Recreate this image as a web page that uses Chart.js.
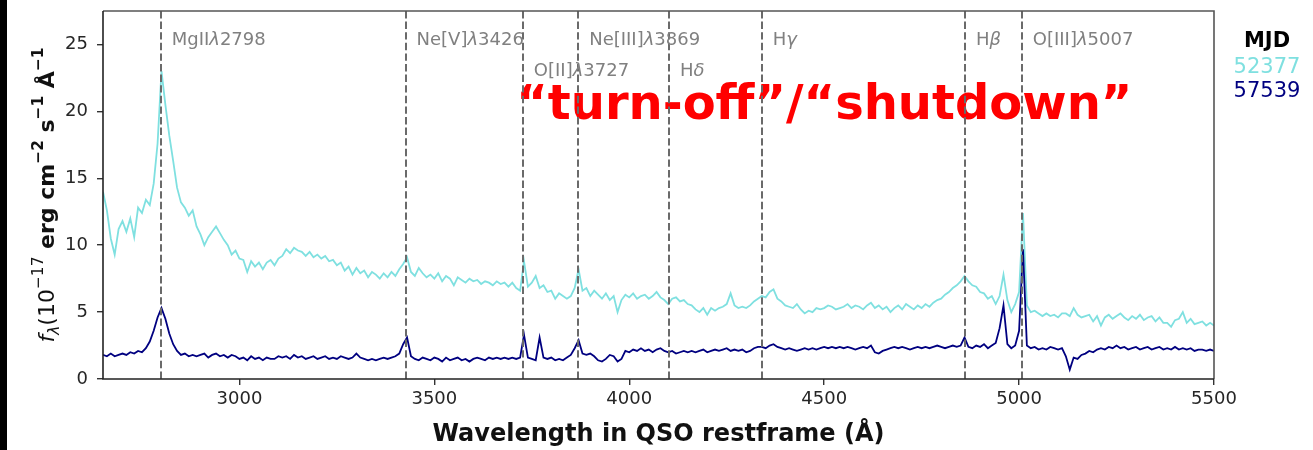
<!DOCTYPE html>
<html>
<head>
<meta charset="utf-8">
<script src="https://cdn.jsdelivr.net/npm/chart.js@4/dist/chart.umd.min.js"></script>
<style>
  html, body { margin: 0; padding: 0; background: #fff; }
  #wrap { position: relative; width: 1313px; height: 450px; }
  #edge { position: absolute; left: 0; top: 0; width: 7px; height: 450px; background: #000; }
  canvas { display: block; }
</style>
</head>
<body>
<div id="wrap">
  <canvas id="spec" width="1313" height="450"></canvas>
  <div id="edge"></div>
</div>
<script>
// Rest-frame wavelength grid (Angstrom)
const waveStart = 2650;
const waveStep = 10;

// Flux density, 1e-17 erg/cm^2/s/A, MJD 52377 (bright state)
const flux52377 = [
  14.0, 12.6, 10.5, 9.3, 11.2, 11.8, 11.0, 12.0, 10.6, 12.8,
  12.4, 13.4, 13.0, 14.6, 17.6, 23.0, 20.5, 18.2, 16.3, 14.3,
  13.2, 12.8, 12.2, 12.6, 11.4, 10.8, 10.0, 10.6, 11.0, 11.4,
  10.9, 10.4, 10.0, 9.3, 9.6, 9.0, 8.9, 8.0, 8.8, 8.4,
  8.7, 8.2, 8.7, 8.9, 8.5, 9.0, 9.2, 9.7, 9.4, 9.8,
  9.6, 9.5, 9.2, 9.5, 9.1, 9.3, 9.0, 9.2, 8.8, 8.9,
  8.5, 8.7, 8.1, 8.4, 7.8, 8.3, 7.9, 8.1, 7.6, 8.0,
  7.8, 7.5, 7.9, 7.6, 8.0, 7.7, 8.2, 8.6, 9.1, 8.0,
  7.7, 8.3, 7.9, 7.6, 7.8, 7.5, 7.9, 7.3, 7.7, 7.5,
  7.0, 7.6, 7.4, 7.2, 7.5, 7.3, 7.4, 7.1, 7.3, 7.2,
  7.0, 7.3, 7.1, 7.2, 6.9, 7.2, 6.8, 6.6, 8.8, 6.9,
  7.2, 7.7, 6.8, 7.0, 6.5, 6.6, 6.0, 6.4, 6.2, 6.0,
  6.2, 6.8, 8.2, 6.6, 6.8, 6.2, 6.6, 6.3, 6.0, 6.4,
  5.9, 6.2, 5.0, 5.9, 6.3, 6.1, 6.4, 6.0, 6.2, 6.3,
  6.0, 6.2, 6.5, 6.1, 5.9, 5.6, 6.0, 6.1, 5.8, 5.9,
  5.6, 5.5, 5.2, 5.0, 5.3, 4.8, 5.3, 5.1, 5.3, 5.4,
  5.6, 6.4, 5.5, 5.3, 5.4, 5.3, 5.5, 5.8, 6.0, 6.2,
  6.1, 6.5, 6.7, 6.0, 5.8, 5.5, 5.4, 5.3, 5.6, 5.2,
  4.9, 5.1, 5.0, 5.3, 5.2, 5.3, 5.5, 5.4, 5.2, 5.3,
  5.4, 5.6, 5.3, 5.5, 5.4, 5.2, 5.5, 5.7, 5.3, 5.5,
  5.2, 5.4, 5.0, 5.3, 5.5, 5.2, 5.6, 5.4, 5.2, 5.5,
  5.3, 5.6, 5.4, 5.7, 5.9, 6.0, 6.3, 6.5, 6.8, 7.0,
  7.3, 7.7, 7.3, 7.0, 6.9, 6.5, 6.4, 6.0, 6.2, 5.6,
  6.2, 7.8, 5.9, 5.0, 5.6, 6.5, 12.4, 5.5, 5.0, 5.1,
  4.9, 4.7, 4.9, 4.7, 4.8, 4.6, 4.9, 4.9, 4.7, 5.3,
  4.8, 4.6, 4.7, 4.8, 4.3, 4.7, 4.0, 4.6, 4.8, 4.5,
  4.7, 4.9, 4.6, 4.4, 4.7, 4.5, 4.8, 4.4, 4.6, 4.7,
  4.3, 4.6, 4.2, 4.2, 3.9, 4.4, 4.5, 5.0, 4.2, 4.5,
  4.1, 4.2, 4.3, 4.0, 4.2, 4.0
];

// Flux density, MJD 57539 (faded state)
const flux57539 = [
  1.8, 1.7, 1.9, 1.7, 1.8, 1.9, 1.8, 2.0, 1.9, 2.1,
  2.0, 2.3, 2.8, 3.6, 4.6, 5.3, 4.5, 3.4, 2.6, 2.1,
  1.8, 1.9, 1.7, 1.8, 1.7, 1.8, 1.9, 1.6, 1.8, 1.9,
  1.7, 1.8, 1.6, 1.8, 1.7, 1.5, 1.6, 1.4, 1.7, 1.5,
  1.6, 1.4, 1.6, 1.5, 1.5, 1.7, 1.6, 1.7, 1.5, 1.8,
  1.6, 1.7, 1.5, 1.6, 1.7, 1.5, 1.6, 1.7, 1.5, 1.6,
  1.5, 1.7, 1.6, 1.5, 1.6, 1.9, 1.6, 1.5, 1.4, 1.5,
  1.4, 1.5, 1.6, 1.5, 1.6, 1.7, 1.9, 2.6, 3.1, 1.7,
  1.5, 1.4, 1.6, 1.5, 1.4, 1.6, 1.5, 1.3, 1.6, 1.4,
  1.5, 1.6, 1.4, 1.5, 1.3, 1.5, 1.6, 1.5, 1.4, 1.6,
  1.5, 1.6, 1.5, 1.6, 1.5, 1.6, 1.5, 1.6, 3.3, 1.6,
  1.5, 1.4, 3.1, 1.6, 1.5, 1.6, 1.4, 1.5, 1.4, 1.6,
  1.8, 2.3, 2.9, 1.9, 1.8, 1.9, 1.7, 1.4, 1.3, 1.5,
  1.8, 1.7, 1.3, 1.5, 2.1, 2.0, 2.2, 2.1, 2.3, 2.1,
  2.2, 2.0, 2.2, 2.3, 2.1, 2.0, 2.1, 1.9, 2.0, 2.1,
  2.0, 2.1, 2.0, 2.1, 2.2, 2.0, 2.1, 2.2, 2.1, 2.2,
  2.3, 2.1, 2.2, 2.1, 2.2, 2.0, 2.1, 2.3, 2.4, 2.4,
  2.3, 2.5, 2.6, 2.4, 2.3, 2.2, 2.3, 2.2, 2.1, 2.2,
  2.3, 2.2, 2.3, 2.2, 2.3, 2.4, 2.3, 2.4, 2.3, 2.4,
  2.3, 2.4, 2.3, 2.2, 2.3, 2.4, 2.3, 2.5, 2.0, 1.9,
  2.1, 2.2, 2.3, 2.4, 2.3, 2.4, 2.3, 2.2, 2.3, 2.4,
  2.3, 2.4, 2.3, 2.4, 2.5, 2.4, 2.3, 2.4, 2.5, 2.4,
  2.5, 3.1, 2.4, 2.3, 2.5, 2.4, 2.6, 2.3, 2.5, 2.7,
  3.8, 5.5, 2.6, 2.3, 2.5, 3.6, 9.7, 2.5, 2.3, 2.4,
  2.2, 2.3, 2.2, 2.4, 2.3, 2.2, 2.3, 1.7, 0.7, 1.6,
  1.5, 1.8, 1.9, 2.1, 2.0, 2.2, 2.3, 2.2, 2.4, 2.3,
  2.5, 2.3, 2.4, 2.2, 2.3, 2.4, 2.2, 2.3, 2.4, 2.2,
  2.3, 2.4, 2.2, 2.3, 2.2, 2.4, 2.2, 2.3, 2.2, 2.3,
  2.1, 2.2, 2.2, 2.1, 2.2, 2.1
];

// Emission-line markers
const lineNames = ['MgIIλ2798', 'Ne[V]λ3426', 'O[II]λ3727', 'Ne[III]λ3869', 'Hδ', 'Hγ', 'Hβ', 'O[III]λ5007'];
const lineWaves = [2798, 3426, 3727, 3869, 4102, 4340, 4861, 5007];
const lineRows  = [0, 0, 1, 0, 1, 0, 0, 0];

// Axis ticks and limits
const xTicks = [3000, 3500, 4000, 4500, 5000, 5500];
const yTicks = [0, 5, 10, 15, 20, 25];
const xRange = [2650, 5500];
const yRange = [0, 27.5];

// Legend
const legendTitle = 'MJD';
const epochs = ['52377', '57539'];
const epochColors = ['#7fe0e0', '#000080'];

// Annotation
const noteText = '“turn-off”/“shutdown”';
const noteAt = { x: 3710, y: 19.4 };

const FONT = '"DejaVu Sans", "Noto Sans", sans-serif';
const wavelength = flux52377.map((_, i) => waveStart + i * waveStep);

function toPoints(flux) {
  return flux.map((f, i) => ({ x: wavelength[i], y: f }));
}

function drawMixed(ctx, text, x, y, size, color) {
  // Greek letters in oblique, the rest upright
  ctx.fillStyle = color;
  ctx.textBaseline = 'alphabetic';
  ctx.textAlign = 'left';
  let cx = x;
  for (const ch of text) {
    const greek = /[λδγβ]/.test(ch);
    ctx.font = `${greek ? 'italic ' : ''}${size}px ${FONT}`;
    ctx.fillText(ch, cx, y);
    cx += ctx.measureText(ch).width;
  }
}

function drawYTitle(ctx, cx, cy) {
  const S = 22;
  const sup = S * 0.7;
  const rise = -S * 0.48;
  const parts = [
    { t: 'f',       f: `italic ${S}px ${FONT}`,        dy: 0 },
    { t: 'λ',       f: `italic ${sup}px ${FONT}`,      dy: S * 0.22 },
    { t: '(10',     f: `${S}px ${FONT}`,               dy: 0 },
    { t: '−17',     f: `${sup}px ${FONT}`,             dy: rise },
    { t: ' erg cm', f: `bold ${S}px ${FONT}`,          dy: 0 },
    { t: '−2',      f: `bold ${sup}px ${FONT}`,        dy: rise },
    { t: ' s',      f: `bold ${S}px ${FONT}`,          dy: 0 },
    { t: '−1',      f: `bold ${sup}px ${FONT}`,        dy: rise },
    { t: ' Å',      f: `bold ${S}px ${FONT}`,          dy: 0 },
    { t: '−1',      f: `bold ${sup}px ${FONT}`,        dy: rise }
  ];
  let total = 0;
  parts.forEach(p => { ctx.font = p.f; p.w = ctx.measureText(p.t).width; total += p.w; });
  ctx.save();
  ctx.translate(cx, cy);
  ctx.rotate(-Math.PI / 2);
  ctx.fillStyle = '#111';
  ctx.textBaseline = 'alphabetic';
  ctx.textAlign = 'left';
  let x = -total / 2;
  parts.forEach(p => { ctx.font = p.f; ctx.fillText(p.t, x, p.dy); x += p.w; });
  ctx.restore();
}

const decorations = {
  id: 'decorations',
  afterDatasetsDraw(chart) {
    const { ctx, chartArea: a, scales: { x, y } } = chart;
    ctx.save();
    // red note
    ctx.font = `bold 48px ${FONT}`;
    ctx.fillStyle = '#ff0000';
    ctx.textBaseline = 'alphabetic';
    ctx.textAlign = 'left';
    ctx.fillText(noteText, x.getPixelForValue(noteAt.x), y.getPixelForValue(noteAt.y));

    // dashed line markers
    ctx.strokeStyle = '#6a6a6a';
    ctx.lineWidth = 2;
    ctx.setLineDash([7.4, 3.2]);
    lineWaves.forEach(w => {
      const px = Math.round(x.getPixelForValue(w));
      ctx.beginPath();
      ctx.moveTo(px, a.top);
      ctx.lineTo(px, a.bottom);
      ctx.stroke();
    });
    ctx.setLineDash([]);

    // marker labels
    lineNames.forEach((name, i) => {
      const px = x.getPixelForValue(lineWaves[i]) + 11;
      const py = a.top + (lineRows[i] === 0 ? 34 : 65);
      drawMixed(ctx, name, px, py, 18, '#808080');
    });
    ctx.restore();
  },
  afterDraw(chart) {
    const { ctx, chartArea: a } = chart;
    ctx.save();
    // frame
    ctx.lineWidth = 1.6;
    ctx.strokeStyle = '#555';
    ctx.beginPath();
    ctx.moveTo(a.left, a.top); ctx.lineTo(a.right, a.top); ctx.lineTo(a.right, a.bottom);
    ctx.stroke();
    ctx.strokeStyle = '#222';
    ctx.beginPath();
    ctx.moveTo(a.left, a.top); ctx.lineTo(a.left, a.bottom); ctx.lineTo(a.right, a.bottom);
    ctx.stroke();

    // axis titles
    ctx.fillStyle = '#111';
    ctx.font = `bold 24px ${FONT}`;
    ctx.textAlign = 'center';
    ctx.textBaseline = 'alphabetic';
    ctx.fillText('Wavelength in QSO restframe (Å)', (a.left + a.right) / 2, 441);
    drawYTitle(ctx, 54, (a.top + a.bottom) / 2);

    // legend
    const lx = 1267;
    ctx.textAlign = 'center';
    ctx.font = `bold 21px ${FONT}`;
    ctx.fillStyle = '#000';
    ctx.fillText(legendTitle, lx, 47);
    ctx.font = `21px ${FONT}`;
    epochs.forEach((e, i) => {
      ctx.fillStyle = epochColors[i];
      ctx.fillText(e, lx, 73 + i * 24);
    });
    ctx.restore();
  }
};

Chart.defaults.font.family = FONT;

new Chart(document.getElementById('spec'), {
  type: 'line',
  data: {
    datasets: [
      {
        label: epochs[1],
        data: toPoints(flux57539),
        borderColor: epochColors[1],
        borderWidth: 1.8,
        pointRadius: 0,
        tension: 0,
        fill: false,
        order: 0
      },
      {
        label: epochs[0],
        data: toPoints(flux52377),
        borderColor: epochColors[0],
        borderWidth: 1.8,
        pointRadius: 0,
        tension: 0,
        fill: false,
        order: 1
      }
    ]
  },
  options: {
    responsive: false,
    animation: false,
    devicePixelRatio: 1,
    events: [],
    layout: { padding: { left: 0, top: 11, right: 99, bottom: 0 } },
    plugins: { legend: { display: false }, tooltip: { enabled: false } },
    scales: {
      x: {
        type: 'linear',
        min: xRange[0],
        max: xRange[1],
        border: { display: false },
        grid: { drawOnChartArea: false, drawTicks: true, tickLength: 6, color: '#333', lineWidth: 1.4 },
        ticks: { color: '#262626', font: { size: 18 }, padding: 4, callback: v => String(v) },
        afterBuildTicks: s => { s.ticks = xTicks.map(v => ({ value: v })); },
        afterFit: s => { s.height = 71; s.paddingLeft = 0; s.paddingRight = 0; }
      },
      y: {
        type: 'linear',
        min: yRange[0],
        max: yRange[1],
        border: { display: false },
        grid: { drawOnChartArea: false, drawTicks: true, tickLength: 6, color: '#333', lineWidth: 1.4 },
        ticks: { color: '#262626', font: { size: 18 }, padding: 9, callback: v => String(v) },
        afterBuildTicks: s => { s.ticks = yTicks.map(v => ({ value: v })); },
        afterFit: s => { s.width = 103; s.paddingTop = 0; s.paddingBottom = 0; }
      }
    }
  },
  plugins: [decorations]
});
</script>
</body>
</html>
